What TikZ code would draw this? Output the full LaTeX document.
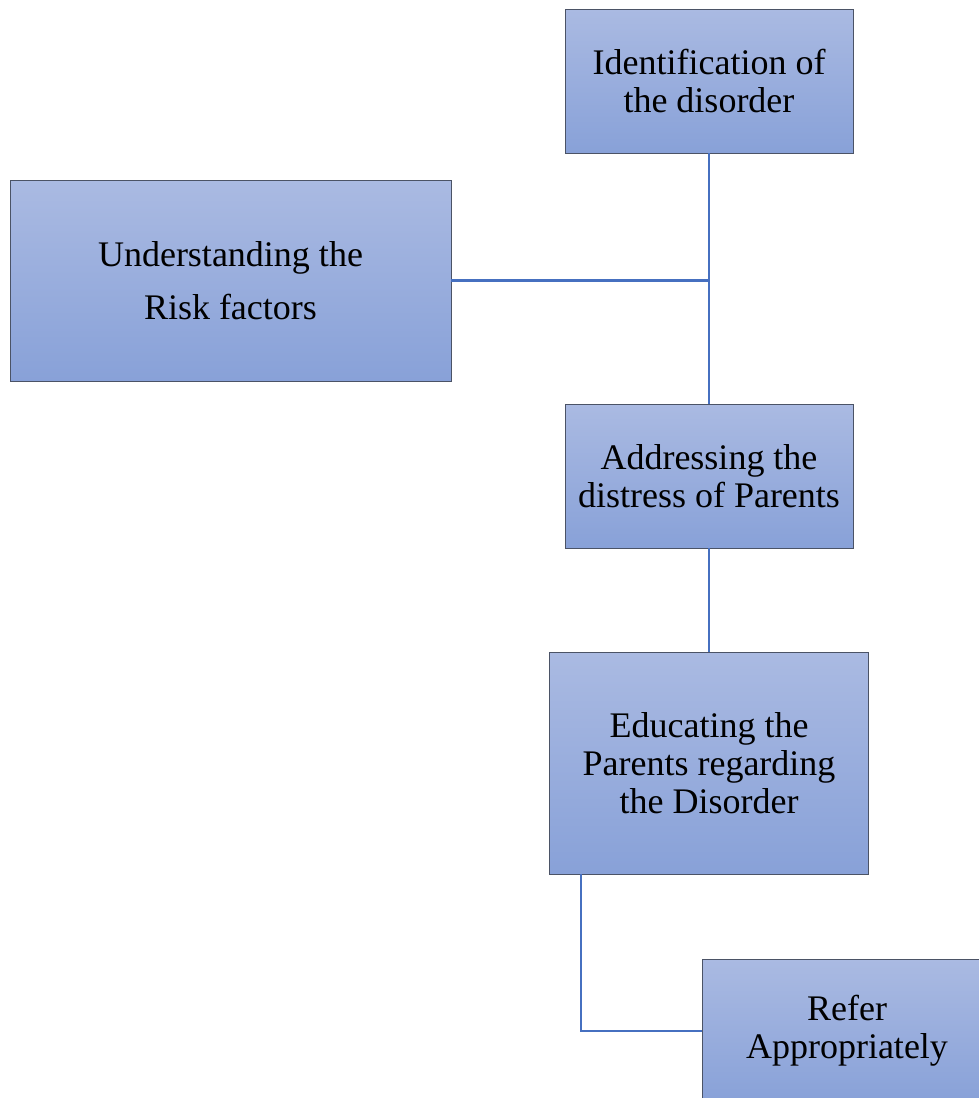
\documentclass[tikz,border=0pt]{standalone}
\usepackage{fontspec}
\setmainfont{Liberation Serif}
\definecolor{boxtop}{HTML}{AABAE2}
\definecolor{boxbot}{HTML}{88A1D8}
\definecolor{boxline}{HTML}{4B5366}
\definecolor{conn}{HTML}{4670C0}
\tikzset{
  stepbox/.style={draw=boxline, line width=0.9pt, top color=boxtop, bottom color=boxbot,
    align=center, inner sep=0pt, font=\fontsize{36}{38}\selectfont},
  link/.style={draw=conn, line width=2.3pt}
}
\begin{document}
\begin{tikzpicture}[x=1pt,y=-1pt]
\clip (0,0) rectangle (979,1098);
\fill[white] (0,0) rectangle (979,1098);
\node[stepbox, minimum width=288, minimum height=144] (id) at (709,81) {Identification of\\the disorder};
\node[stepbox, minimum width=441, minimum height=201, font=\fontsize{36}{53}\selectfont] (risk) at (230.5,280.5) {Understanding the\\Risk factors};
\node[stepbox, minimum width=288, minimum height=144] (addr) at (709,476) {Addressing the\\distress of Parents};
\node[stepbox, minimum width=319, minimum height=222] (edu) at (709,763) {Educating the\\Parents regarding\\the Disorder};
\node[stepbox, minimum width=290, minimum height=144] (refer) at (847,1031) {Refer\\Appropriately};
\coordinate (elbow) at (581,1031);
\draw[link] (id.south) -- (addr.north);
\draw[link] (risk.east) -- (risk.east -| id.south);
\draw[link] (addr.south) -- (edu.north);
\draw[link] (edu.south -| elbow) -- (elbow) -- (refer.west);
\end{tikzpicture}
\end{document}
